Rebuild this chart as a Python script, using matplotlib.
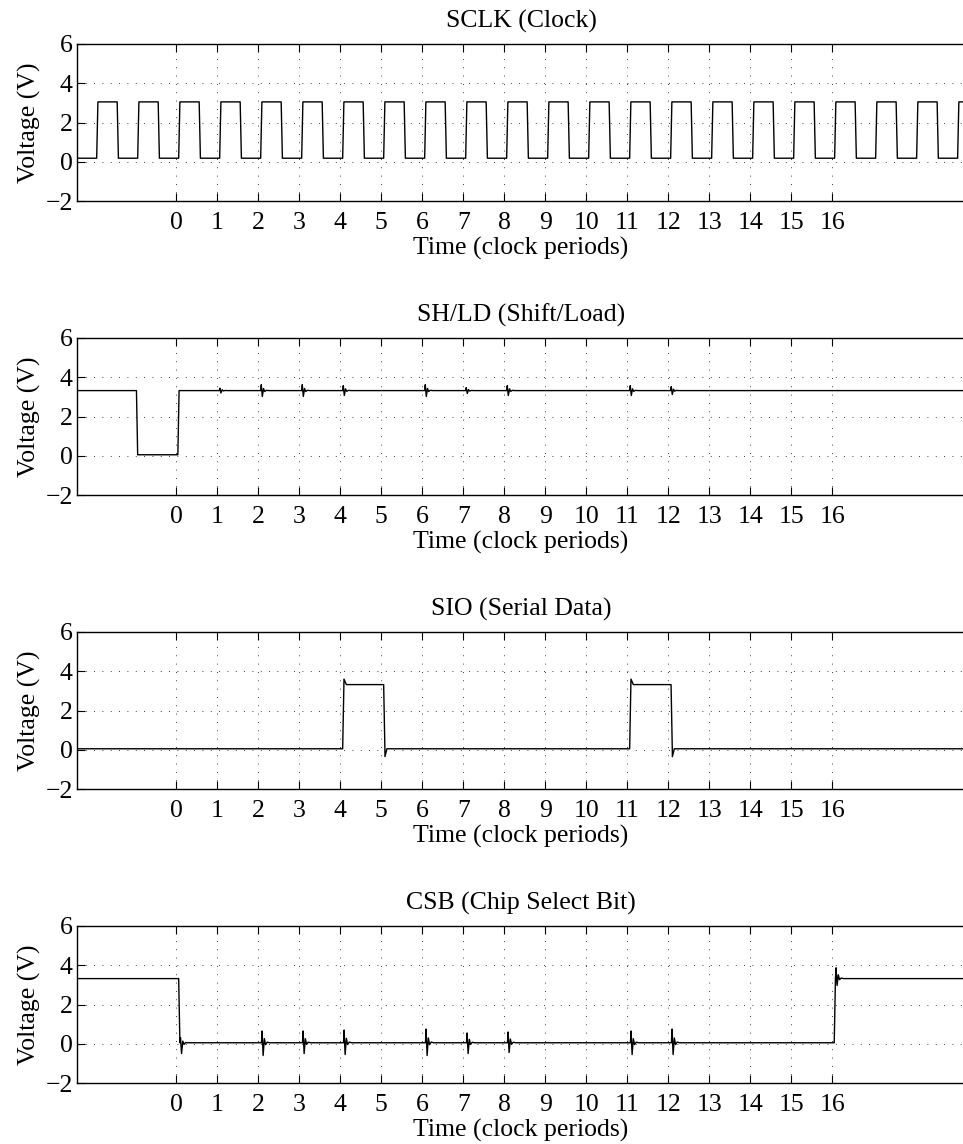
import numpy as np
import matplotlib
matplotlib.use("Agg")
import matplotlib.pyplot as plt

# ---------------- data ----------------
x_range = [-2.42, 19.24]
x_ticks = list(range(0, 17))
y_ticks = [-2, 0, 2, 4, 6]
titles = ["SCLK (Clock)", "SH/LD (Shift/Load)", "SIO (Serial Data)", "CSB (Chip Select Bit)"]

# SCLK: edge times and levels
sclk_rise = [-1.94, -0.94, 0.06, 1.06, 2.06, 3.06, 4.06, 5.06, 6.06, 7.06, 8.06,
             9.06, 10.06, 11.06, 12.06, 13.06, 14.06, 15.06, 16.06, 17.06, 18.06, 19.06]
sclk_fall = [-1.44, -0.44, 0.56, 1.56, 2.56, 3.56, 4.56, 5.56, 6.56, 7.56, 8.56,
             9.56, 10.56, 11.56, 12.56, 13.56, 14.56, 15.56, 16.56, 17.56, 18.56, 19.56]
sclk_high, sclk_low = 3.05, 0.18

# SH/LD
shld_fall = [-0.97]
shld_rise = [0.04]
shld_high, shld_low = 3.32, 0.05
shld_glitch_t = [1.05, 2.06, 3.06, 4.06, 6.06, 7.06, 8.06, 11.06, 12.06]
shld_glitch_a = [0.12, 0.3, 0.3, 0.25, 0.3, 0.15, 0.25, 0.25, 0.2]

# SIO
sio_rise = [4.06, 11.06]
sio_fall = [5.06, 12.07]
sio_high, sio_low = 3.32, 0.05
sio_overshoot = 3.6
sio_undershoot = -0.35

# CSB
csb_fall = [0.06]
csb_rise = [16.05]
csb_high, csb_low = 3.32, 0.05
csb_glitch_t = [2.08, 3.08, 4.08, 6.08, 7.08, 8.08, 11.08, 12.08]
csb_glitch_up = [0.6, 0.6, 0.65, 0.7, 0.5, 0.55, 0.6, 0.7]
csb_glitch_dn = [-0.65, -0.55, -0.6, -0.65, -0.55, -0.5, -0.6, -0.6]

# ringing profile (relative offsets in time, relative amplitude)
ring_dt = [0.0, 0.015, 0.04, 0.07, 0.10, 0.14, 0.2]
ring_a = [0.0, 1.0, -1.0, 0.35, -0.15, 0.05, 0.0]

trise = 0.03


def square(rises, falls, hi, lo, start_level):
    evts = sorted([(t, 'r') for t in rises] + [(t, 'f') for t in falls])
    xs = [x_range[0] - 0.1]
    lvl = hi if start_level == 'hi' else lo
    ys = [lvl]
    for t, k in evts:
        xs += [t, t + trise]
        if k == 'r':
            ys += [lo, hi]
        else:
            ys += [hi, lo]
    xs.append(x_range[1] + 1)
    ys.append(ys[-1])
    return np.array(xs), np.array(ys)


def add_ring(xs, ys, t0, up, dn):
    rx = [t0 + d for d in ring_dt]
    base = np.interp(t0, xs, ys)
    ry = []
    for a in ring_a:
        ry.append(base + (a * up if a >= 0 else -a * dn))
    m = (xs < rx[0]) | (xs > rx[-1])
    xs2 = np.concatenate([xs[m], rx])
    ys2 = np.concatenate([ys[m], ry])
    o = np.argsort(xs2, kind='stable')
    return xs2[o], ys2[o]


plt.rcParams['font.family'] = ['Liberation Serif', 'DejaVu Serif']
FS = 18.5

fig = plt.figure(figsize=(9.63, 11.44), dpi=100)
W, H = 963, 1144
tops = [44, 338, 632, 926]
ax_h = 157
left_px = 77
right_px = 965

signals = []
# SCLK
signals.append(square(sclk_rise, sclk_fall, sclk_high, sclk_low, 'lo'))
# SH/LD
xs, ys = square(shld_rise, shld_fall, shld_high, shld_low, 'hi')
for t, a in zip(shld_glitch_t, shld_glitch_a):
    xs, ys = add_ring(xs, ys, t, a, -a)
signals.append((xs, ys))
# SIO
xs, ys = square(sio_rise, sio_fall, sio_high, sio_low, 'lo')
xs_n, ys_n = list(xs), list(ys)
for t in sio_rise:
    xs_n += [t + trise + 0.002, t + 0.09]
    ys_n += [sio_overshoot, sio_high]
for t in sio_fall:
    xs_n += [t + trise + 0.002, t + 0.08]
    ys_n += [sio_undershoot, sio_low]
o = np.argsort(xs_n, kind='stable')
signals.append((np.array(xs_n)[o], np.array(ys_n)[o]))
# CSB
xs, ys = square(csb_rise, csb_fall, csb_high, csb_low, 'hi')
xs, ys = add_ring(xs, ys, csb_fall[0] + trise, 0.25, -0.55)
for t, u, d in zip(csb_glitch_t, csb_glitch_up, csb_glitch_dn):
    xs, ys = add_ring(xs, ys, t, u, d)
xs, ys = add_ring(xs, ys, csb_rise[0] + trise, 0.55, -0.35)
signals.append((xs, ys))

for i, (sx, sy) in enumerate(signals):
    bottom = (H - tops[i] - ax_h) / H
    ax = fig.add_axes([left_px / W, bottom, (right_px - left_px) / W, ax_h / H])
    ax.plot(sx, sy, color='black', linewidth=1.0)
    ax.set_xlim(x_range)
    ax.set_ylim(-2, 6)
    ax.set_xticks(x_ticks)
    ax.set_yticks(y_ticks)
    ax.set_yticklabels(['\u22122', '0', '2', '4', '6'])
    ax.tick_params(direction='in', top=True, right=False, length=6, width=0.8,
                   labelsize=FS)
    ax.tick_params(axis='x', pad=8)
    ax.tick_params(axis='y', pad=3)
    ax.grid(True, color='black', linestyle=(0, (1, 9)), linewidth=0.6)
    for s in ax.spines.values():
        s.set_linewidth(1.0)
    ax.set_title(titles[i], fontsize=FS, pad=12)
    ax.set_xlabel('Time (clock periods)', fontsize=FS, labelpad=2)
    ax.set_ylabel('Voltage (V)', fontsize=FS, labelpad=3)

fig.savefig('out.png', dpi=100)
